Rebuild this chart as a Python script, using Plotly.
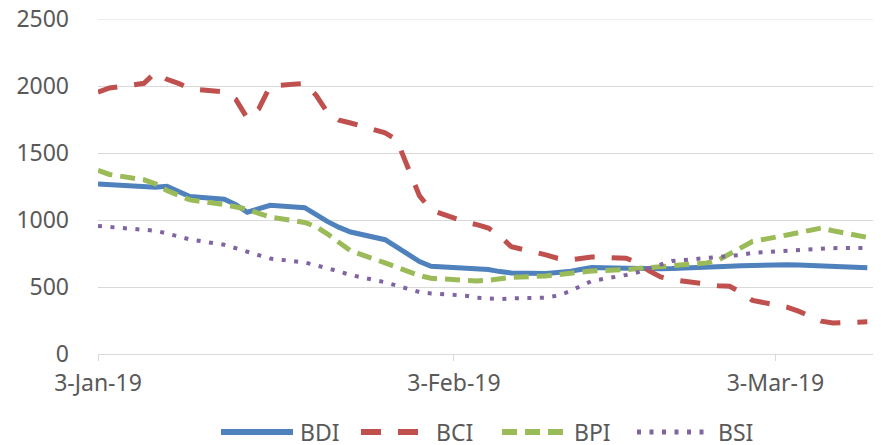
import pandas as pd
import plotly.graph_objects as go

# business days, 3 Jan 2019 -> 11 Mar 2019
dates = pd.bdate_range("2019-01-03", "2019-03-11")

bdi = [1268, 1262, 1250, 1245, 1252, 1210, 1175, 1155, 1115, 1058, 1085, 1110,
       1092, 1035, 988, 945, 910, 853, 800, 740, 690, 655, 640, 635, 630, 615,
       605, 600, 605, 615, 630, 645, 640, 636, 635, 637, 638, 643, 648, 655,
       658, 662, 666, 664, 660, 655, 650, 643]
bci = [1955, 1985, 2020, 2100, 2050, 2020, 1980, 1955, 1900, 1760, 1830, 2000,
       2020, 1930, 1800, 1745, 1724, 1650, 1600, 1400, 1180, 1075, 985, 965,
       940, 880, 800, 740, 715, 701, 715, 724, 715, 680, 620, 575, 555, 515,
       510, 505, 460, 400, 350, 320, 285, 245, 231, 240]
bpi = [1370, 1340, 1300, 1270, 1220, 1180, 1150, 1115, 1100, 1080, 1050, 1022,
       982, 950, 895, 830, 770, 680, 645, 610, 585, 565, 547, 545, 550, 560,
       572, 582, 590, 603, 612, 620, 630, 634, 645, 652, 660, 680, 700, 745,
       790, 840, 888, 905, 925, 940, 920, 870]
bsi = [955, 948, 930, 920, 900, 875, 855, 815, 790, 762, 735, 712, 683, 665,
       640, 615, 590, 535, 510, 480, 462, 452, 435, 420, 415, 410, 415, 420,
       435, 465, 505, 545, 590, 610, 640, 665, 694, 716, 722, 730, 740, 755,
       768, 772, 780, 785, 790, 791]

tick_dates = ["2019-01-03", "2019-02-03", "2019-03-03"]
tick_text = ["3-Jan-19", "3-Feb-19", "3-Mar-19"]

FONT = "Noto Sans"
GREY = "#595959"
GRID = "#d9d9d9"

series = [
    ("BDI", bdi, "#4f81bd", "solid", 5),
    ("BCI", bci, "#c0504d", "20px,17px", 5),
    ("BPI", bpi, "#9bbb59", "15px,8px", 5),
    ("BSI", bsi, "#8064a2", "4px,8.5px", 4),
]

fig = go.Figure()
for name, vals, col, dash, w in series:
    fig.add_trace(go.Scatter(x=dates, y=vals, mode="lines", name=name, showlegend=False,
                             line=dict(color=col, width=w, dash=dash)))

# page body has an 8px margin, so the figure starts at (8, 8) in the window
OFF = 8
L, W, H = 98, 777, 335
leg_pos = [(221, 293, 298), (361, 428, 434), (502, 567, 572), (637, 707, 716)]
leg_y = (354 - 432) / H
for (name, vals, col, dash, w), (x0, x1, xt) in zip(series, leg_pos):
    fig.add_shape(type="line", xref="paper", yref="paper",
                  x0=(x0 - L) / W, x1=(x1 - L) / W, y0=leg_y, y1=leg_y,
                  line=dict(color=col, width=w + 1, dash=dash))
    fig.add_annotation(xref="paper", yref="paper", x=(xt - L) / W, y=leg_y,
                       text=name, showarrow=False, xanchor="left", yanchor="middle",
                       font=dict(family=FONT, size=23, color=GREY))

# top gridline sits on the plot edge
fig.add_shape(type="line", xref="paper", yref="y", x0=0, x1=1, y0=2500, y1=2500,
              line=dict(color=GRID, width=1), layer="below")

fig.update_layout(
    width=881 - OFF, height=445 - OFF,
    margin=dict(l=L - OFF, r=881 - L - W, t=19 - OFF, b=445 - 354, autoexpand=False),
    paper_bgcolor="white", plot_bgcolor="white",
    font=dict(family=FONT, size=23, color=GREY),
    showlegend=False,
)
fig.update_xaxes(type="date", range=["2019-01-03", "2019-03-11 16:00"],
                 tickvals=tick_dates, ticktext=tick_text, automargin=False,
                 showgrid=False, showline=True, linecolor=GRID, linewidth=1,
                 ticks="outside", ticklen=6, tickcolor=GRID, zeroline=False,
                 ticklabelstandoff=2, ticklabeloverflow="allow")
fig.update_yaxes(range=[0, 2500], dtick=500, showgrid=True, gridcolor=GRID,
                 gridwidth=1, zeroline=False, ticks="", ticklabelstandoff=28,
                 automargin=False, ticklabeloverflow="allow")

fig.write_html("out.html")
